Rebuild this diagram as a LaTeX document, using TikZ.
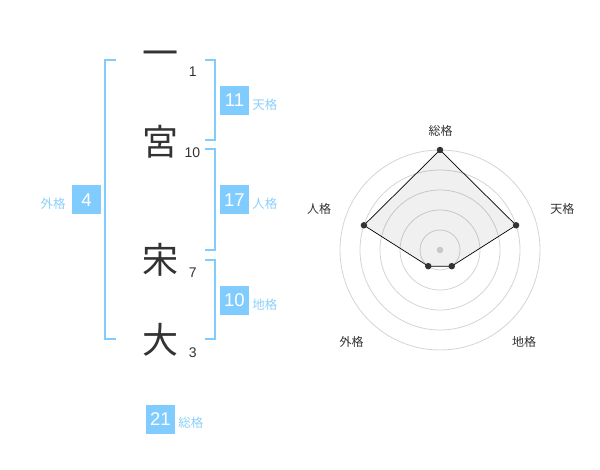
\documentclass[tikz,border=0pt]{standalone}
\usepackage{fontspec}
\setmainfont{Liberation Sans}
\newfontfamily\jp{Noto Sans CJK JP}
\usetikzlibrary{positioning}
\definecolor{bleu}{RGB}{128,204,255}
\definecolor{bleuclair}{RGB}{140,208,250}
\definecolor{fonce}{RGB}{51,51,51}
\definecolor{grille}{RGB}{212,212,212}
\begin{document}
\begin{tikzpicture}[x=1pt,y=-1pt]
    \newcommand\kaku[5]{\node[box] at (#1) (#2) {#3};
                        \node[lab,#5 of #2,yshift=-4pt] (#2l) {#4};}
    \tikzstyle{car}=[font=\jp\fontsize{36}{36}\selectfont,text=fonce,inner sep=0pt]
    \tikzstyle{num}=[font=\fontsize{14}{14}\selectfont,text=fonce,inner sep=0pt]
    \tikzstyle{box}=[fill=bleu,text=white,minimum size=29pt,inner sep=0pt,font=\fontsize{18.5}{18.5}\selectfont]
    \tikzstyle{lab}=[text=bleuclair,inner sep=0pt,font=\jp\fontsize{12.5}{12.5}\selectfont]
    \tikzstyle{br}=[draw=bleu,line width=2pt]
    \tikzstyle{rad}=[text=fonce,inner sep=0pt,font=\jp\fontsize{12}{12}\selectfont]
    \tikzstyle{pt}=[circle,fill=fonce,inner sep=0pt,minimum size=6.5pt]
    \useasboundingbox (0,0) rectangle (600,470);
    \node[car] at (160,58.7) (c1) {一};
    \node[car] at (160,141.5) (c2) {宮};
    \node[car] at (160,260) (c3) {宋};
    \node[car] at (160,340) (c4) {大};
    \node[num] at (192.7,72) (n1) {1};
    \node[num] at (192.5,153) (n2) {10};
    \node[num] at (192.7,272.5) (n3) {7};
    \node[num] at (192.7,352.5) (n4) {3};
    \draw[br] (116,60.3) -- (105,60.3) -- (105,339.5) -- (116,339.5); % crochet exterieur
    \draw[br] (205,60.3) -- (215,60.3) -- (215,140) -- (205,140);
    \draw[br] (205,149.5) -- (215,149.5) -- (215,250) -- (205,250);
    \draw[br] (205,260) -- (215,260) -- (215,339.5) -- (205,339.5);
    \kaku{234.5,100.5}{ten}{11}{天格}{right=3pt}
    \kaku{234.5,200}{jin}{17}{人格}{right=3pt}
    \kaku{234.5,300.5}{chi}{10}{地格}{right=3pt}
    \kaku{86.5,200}{gai}{4}{外格}{left=6pt}
    \kaku{160.5,419}{sou}{21}{総格}{right=3pt}
    \begin{scope}[shift={(440,250)},yscale=-1] % radar
      \foreach \r in {20,40,...,100} \draw[grille,line width=0.8pt] (0,0) circle (\r pt);
      \fill[grille] (0,0) circle (3.3pt);
      \coordinate (so) at (90:100);
      \coordinate (te) at (18:80);
      \coordinate (ch) at (-54:20);
      \coordinate (ga) at (-126:20);
      \coordinate (ji) at (162:80);
      \filldraw[fill=black,fill opacity=0.06,draw=black,line width=0.7pt] (so) -- (te) -- (ch) -- (ga) -- (ji) -- cycle;
      \foreach \p in {so,te,ch,ga,ji} \node[pt] (\p d) at (\p) {};
      \node[rad] (lso) at (0.7,119.3) {総格};
      \node[rad] (lte) at (122.3,41) {天格};
      \node[rad] (lji) at (-121,41) {人格};
      \node[rad] (lga) at (-88.3,-92.3) {外格};
      \node[rad] (lch) at (84,-92.3) {地格};
    \end{scope}
\end{tikzpicture}
\end{document}
